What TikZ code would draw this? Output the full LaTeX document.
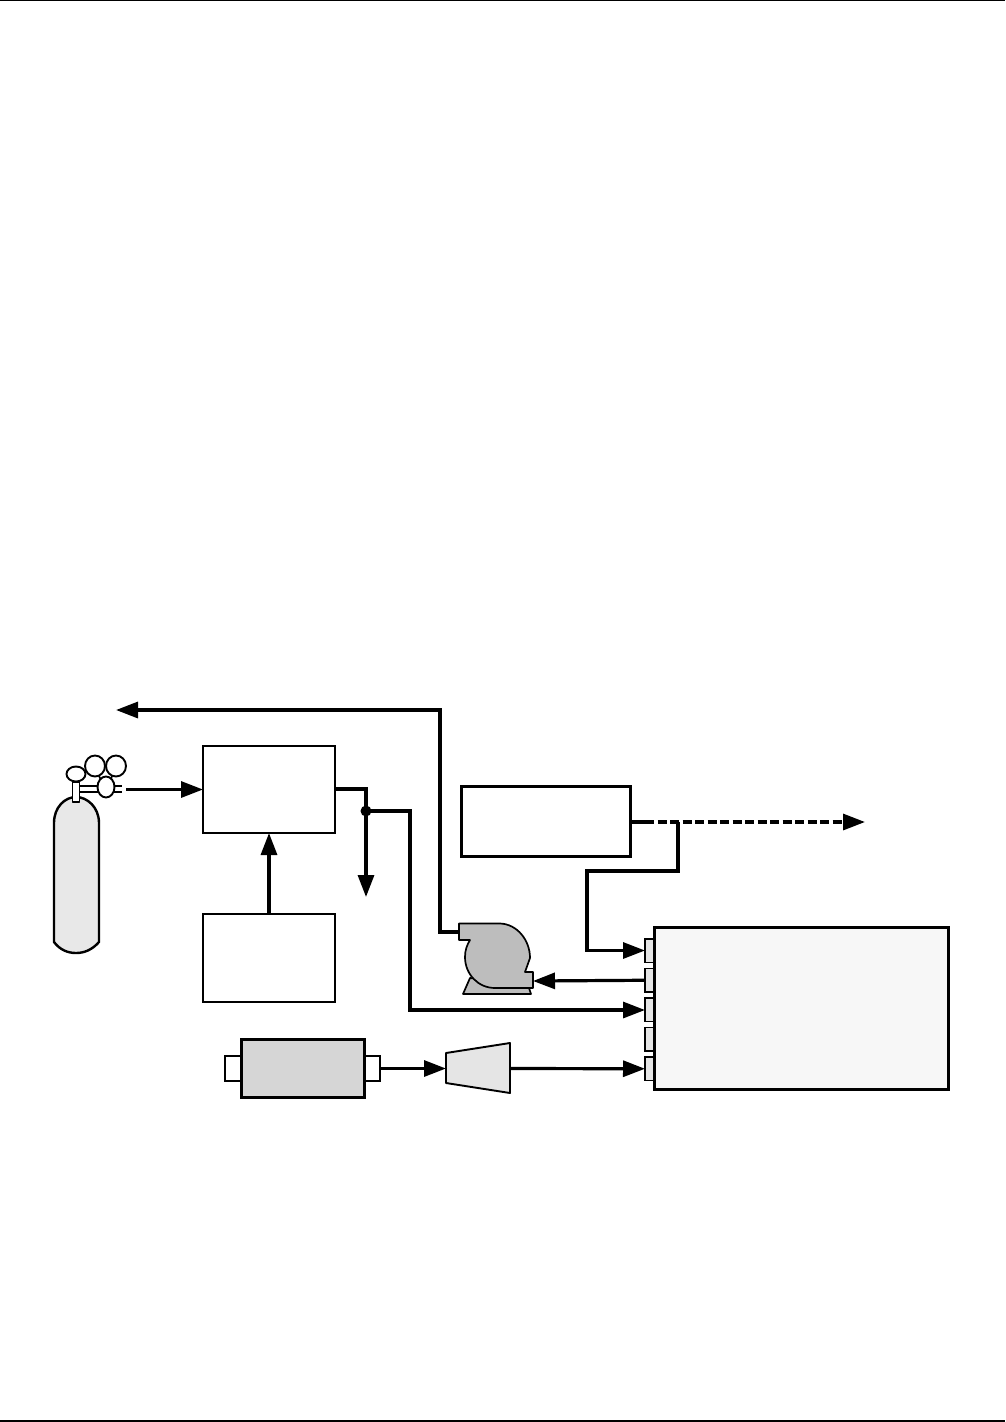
\documentclass[tikz,border=0pt]{standalone}
\usepackage{tikz}
\usetikzlibrary{positioning, arrows.meta, shapes.geometric}

\begin{document}
\begin{tikzpicture}[
                x=1pt, y=-1pt,
                node distance = 6pt and 0pt,
                % Box Styles
                blockBox/.style = {rectangle, draw, line width=2.4pt, inner sep=0pt, outer sep=0pt, fill=white, anchor=north west},
                portBox/.style = {rectangle, draw, line width=1.3pt, inner sep=0pt, outer sep=0pt, fill=black!10, minimum width=9pt, minimum height=23.5pt},
                stubBox/.style = {rectangle, draw, line width=1.3pt, inner sep=0pt, outer sep=0pt, fill=white, minimum width=16pt, minimum height=25pt},
                dialBox/.style = {ellipse, draw, line width=1.9pt, inner sep=0pt, fill=white},
                partLine/.style = {line width=1.7pt, line join=round},
                % Arrow Style
                gasLine/.style = {-{Triangle[length=22pt, width=16pt]}, line width=3.2pt, line join=miter},
                pipeLine/.style = {line width=3.2pt, line join=miter}
            ]
                \useasboundingbox (0,0) rectangle (1005,1422);

                % ==========================================
                % PAGE RULES
                % ==========================================
                \coordinate (RuleTL) at (0,0.7);
                \coordinate (RuleTR) at (1005,0.7);
                \coordinate (RuleBL) at (0,1421);
                \coordinate (RuleBR) at (1005,1421);
                \draw[line width=1.4pt] (RuleTL) -- (RuleTR);
                \draw[line width=1.4pt] (RuleBL) -- (RuleBR);

                % ==========================================
                % BLOCKS
                % ==========================================
                \node[blockBox, minimum width=132pt, minimum height=87pt] (Zero) at (203,746) {};
                \node[blockBox, minimum width=132pt, minimum height=88pt] (Feed) at (203,914) {};
                \node[blockBox, line width=3pt, minimum width=169.5pt, minimum height=70pt] (Probe) at (461,786) {};
                \node[blockBox, line width=3pt, fill=black!3, minimum width=294pt, minimum height=162pt] (Main) at (654,927) {};

                % Ports on the main block
                \node[portBox, anchor=north east] (PortA) at (654,939) {};
                \node[portBox, below=6pt of PortA] (PortB) {};
                \node[portBox, below=6pt of PortB] (PortC) {};
                \node[portBox, below=6pt of PortC] (PortD) {};
                \node[portBox, below=6pt of PortD] (PortE) {};

                % Dark unit with its two stubs
                \node[stubBox] (StubL) at (233,1068.5) {};
                \node[stubBox] (StubR) at (372,1068.5) {};
                \node[blockBox, line width=3pt, fill=black!16, minimum width=123pt, minimum height=58pt] (Unit) at (241,1039) {};

                % ==========================================
                % CYLINDER AND REGULATOR
                % ==========================================
                \draw[partLine, line width=2.4pt, fill=black!9] (54,823) .. controls (54,807) and (65,797) .. (76,797)
                    .. controls (87,797) and (99,807) .. (99,823) -- (99,942)
                    .. controls (92,950) and (84,953) .. (76,953)
                    .. controls (68,953) and (60,950) .. (54,942) -- cycle;
                \draw[partLine, fill=white] (72.5,782) rectangle (79.5,802);
                \draw[partLine] (79,786) -- (122,786);
                \draw[partLine] (79,792) -- (122,792);
                \draw[partLine] (99,776) -- (102,782);
                \draw[partLine] (112,776) -- (110,782);
                \node[dialBox, minimum width=19pt, minimum height=15pt] (Knob) at (76,774) {};
                \node[dialBox, minimum width=20pt, minimum height=21pt] (GaugeA) at (95,766) {};
                \node[dialBox, minimum width=20pt, minimum height=21pt] (GaugeB) at (116,766) {};
                \node[dialBox, minimum width=17pt, minimum height=21pt] (Reg) at (106,787) {};
                \coordinate (RegOut) at (126,789.5);

                % ==========================================
                % PUMP
                % ==========================================
                \draw[partLine, fill=black!26] (470,978) -- (463,994) -- (531,994) -- (528,985) -- cycle;
                \draw[partLine, fill=black!26] (459,923.5) -- (500,923.5)
                    .. controls (517,924) and (530,940) .. (530,958) -- (525,972) -- (533,972) -- (533,988) -- (495,988)
                    .. controls (478,988) and (465,974) .. (465,957)
                    .. controls (465,950) and (467,945) .. (470,940) -- (459,940) -- cycle;
                \coordinate (PumpIn) at (459,932);
                \coordinate (PumpOut) at (533,981);

                % ==========================================
                % CONVERTER
                % ==========================================
                \draw[partLine, line width=1.9pt, fill=black!10] (446,1053) -- (510,1043) -- (510,1093) -- (446,1083) -- cycle;
                \coordinate (ConvIn) at (446,1068.5);
                \coordinate (ConvOut) at (510,1068.5);

                % ==========================================
                % ROUTING LINES
                % ==========================================
                \coordinate (VentEnd) at (116,710);
                \coordinate (VentBend) at (440,710);
                \coordinate (PumpBend) at (440,932);
                \draw[gasLine] (PumpIn) -- (PumpBend) -- (VentBend) -- (VentEnd);

                \draw[gasLine] (RegOut) -- (Zero.west |- RegOut);
                \draw[gasLine] (Feed.north) -- (Zero.south);

                \coordinate (ZeroBend) at (366,789);
                \coordinate (Tee) at (366,811);
                \coordinate (DumpEnd) at (366,897);
                \coordinate (TeeBend) at (410,811);
                \coordinate (TeeDown) at (410,1010);
                \draw[pipeLine] (Zero.east |- ZeroBend) -- (ZeroBend) -- (Tee);
                \draw[gasLine] (Tee) -- (DumpEnd);
                \draw[gasLine] (Tee) -- (TeeBend) -- (TeeDown) -- (PortC.west |- TeeDown);
                \fill (Tee) circle (5.5pt);

                \coordinate (ProbeOut) at (631,822);
                \coordinate (DashStart) at (645,822);
                \coordinate (Branch) at (678,822);
                \coordinate (DashEnd) at (865,822);
                \coordinate (BranchA) at (678,871);
                \coordinate (BranchB) at (587,871);
                \coordinate (BranchC) at (587,950.5);
                \draw[pipeLine] (ProbeOut) -- (DashStart);
                \draw[gasLine, dash pattern=on 9pt off 3.5pt] (DashStart) -- (DashEnd);
                \draw[gasLine] (Branch) -- (BranchA) -- (BranchB) -- (BranchC) -- (PortA.west |- BranchC);

                \draw[gasLine] (PortB.west) -- (PumpOut);
                \draw[gasLine] (StubR.east) -- (ConvIn);
                \draw[gasLine] (ConvOut) -- (PortE.west);
            \end{tikzpicture}
\end{document}
